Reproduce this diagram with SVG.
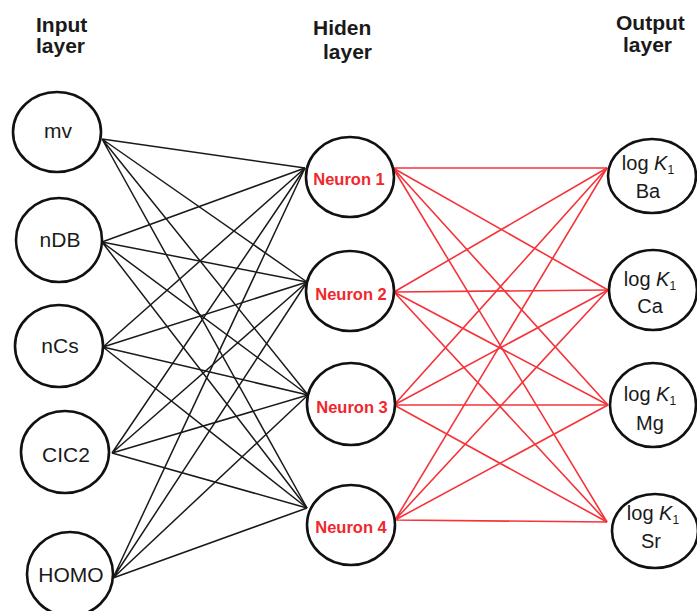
<svg xmlns="http://www.w3.org/2000/svg" width="697" height="611" viewBox="0 0 697 611">
  <style>
    .bg { fill: #ffffff; }
    .node { fill: #ffffff; stroke: #111111; stroke-width: 2.6; }
    .hdr { font-family: "Liberation Sans", Arial, sans-serif; font-size: 21px; font-weight: bold; fill: #1a1a1a; }
    .lbl { font-family: "Liberation Sans", Arial, sans-serif; font-size: 21px; fill: #1a1a1a; text-anchor: middle; }
    .hid { font-family: "Liberation Sans", Arial, sans-serif; font-size: 16.5px; font-weight: bold; fill: #f0282d; text-anchor: middle; }
    .out { font-family: "Liberation Sans", Arial, sans-serif; font-size: 20px; fill: #1a1a1a; text-anchor: middle; }
    .w-in { stroke: #1a1a1a; stroke-width: 1.5; fill: none; }
    .w-out { stroke: #f5343a; stroke-width: 1.6; fill: none; }
  </style>
  <rect class="bg" x="0" y="0" width="697" height="611"/>

  <!-- layer headings -->
  <g id="headings">
    <text class="hdr" x="36" y="32">Input</text>
    <text class="hdr" x="36" y="53">layer</text>
    <text class="hdr" x="313" y="35">Hiden</text>
    <text class="hdr" x="323" y="59">layer</text>
    <text class="hdr" x="616" y="30">Output</text>
    <text class="hdr" x="623" y="52">layer</text>
  </g>

  <!-- weights: input to hidden (black), hidden to output (red) -->
  <g id="connectors">
    <g class="w-in">
      <path d="M102 139L305 168M102 139L307 282M102 139L308 395M102 139L307 508"/>
      <path d="M102 242L305 168M102 242L307 282M102 242L308 395M102 242L307 508"/>
      <path d="M103 347L305 168M103 347L307 282M103 347L308 395M103 347L307 508"/>
      <path d="M112 453L305 168M112 453L307 282M112 453L308 395M112 453L307 508"/>
      <path d="M113 578L305 168M113 578L307 282M113 578L308 395M113 578L307 508"/>
    </g>
    <g class="w-out">
      <path d="M393 168L607 168M393 168L608 290M393 168L608 405M393 168L607 522"/>
      <path d="M394 292L607 168M394 292L608 290M394 292L608 405M394 292L607 522"/>
      <path d="M394 405L607 168M394 405L608 290M394 405L608 405M394 405L607 522"/>
      <path d="M395 520L607 168M395 520L608 290M395 520L608 405M395 520L607 522"/>
    </g>
  </g>

  <!-- input layer -->
  <g id="in-mv"><ellipse class="node" cx="57" cy="132" rx="44" ry="40"/><text class="lbl" x="58" y="138">mv</text></g>
  <g id="in-nDB"><ellipse class="node" cx="59" cy="240" rx="43" ry="42"/><text class="lbl" x="60" y="247">nDB</text></g>
  <g id="in-nCs"><ellipse class="node" cx="59" cy="346" rx="44" ry="41"/><text class="lbl" x="60" y="353">nCs</text></g>
  <g id="in-CIC2"><ellipse class="node" cx="65" cy="452" rx="44" ry="41"/><text class="lbl" x="66" y="462">CIC2</text></g>
  <g id="in-HOMO"><ellipse class="node" cx="70" cy="574" rx="43" ry="42"/><text class="lbl" x="71" y="582">HOMO</text></g>

  <!-- hidden layer -->
  <g id="hid-1"><ellipse class="node" cx="350" cy="177" rx="44" ry="40"/><text class="hid" x="349" y="185">Neuron 1</text></g>
  <g id="hid-2"><ellipse class="node" cx="350" cy="291" rx="44" ry="40"/><text class="hid" x="351" y="300">Neuron 2</text></g>
  <g id="hid-3"><ellipse class="node" cx="351" cy="404" rx="44" ry="41"/><text class="hid" x="352" y="413">Neuron 3</text></g>
  <g id="hid-4"><ellipse class="node" cx="351" cy="525" rx="44" ry="40"/><text class="hid" x="351" y="533">Neuron 4</text></g>

  <!-- output layer -->
  <g id="out-Ba"><ellipse class="node" cx="652" cy="176" rx="44" ry="37"/>
    <text class="out" x="648" y="170">log <tspan font-style="italic">K</tspan><tspan font-size="12" dy="4">1</tspan></text>
    <text class="out" x="648" y="198">Ba</text></g>
  <g id="out-Ca"><ellipse class="node" cx="653" cy="290" rx="44" ry="40"/>
    <text class="out" x="650" y="286">log <tspan font-style="italic">K</tspan><tspan font-size="12" dy="4">1</tspan></text>
    <text class="out" x="650" y="313">Ca</text></g>
  <g id="out-Mg"><ellipse class="node" cx="653" cy="405" rx="43" ry="42"/>
    <text class="out" x="650" y="401">log <tspan font-style="italic">K</tspan><tspan font-size="12" dy="4">1</tspan></text>
    <text class="out" x="650" y="430">Mg</text></g>
  <g id="out-Sr"><ellipse class="node" cx="655" cy="531" rx="43" ry="37"/>
    <text class="out" x="653" y="520">log <tspan font-style="italic">K</tspan><tspan font-size="12" dy="4">1</tspan></text>
    <text class="out" x="651" y="548">Sr</text></g>
</svg>
